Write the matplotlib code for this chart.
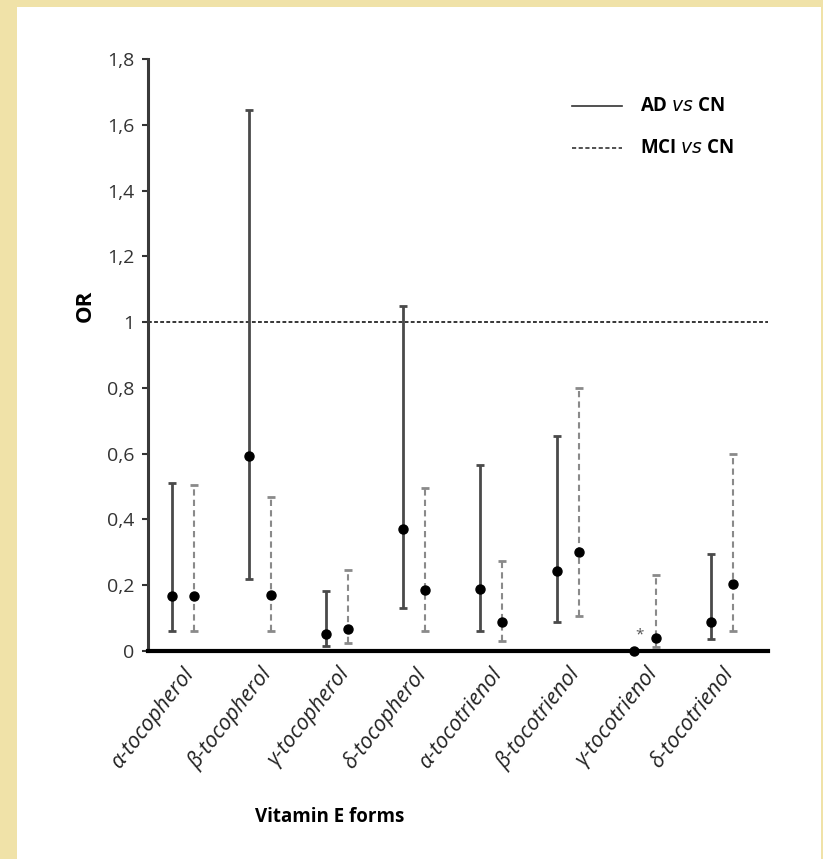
import matplotlib
matplotlib.use("Agg")
import matplotlib.pyplot as plt
from matplotlib.patches import Rectangle

plt.rcParams['font.family'] = ['Open Sans', 'DejaVu Sans']

forms = ['α-tocopherol', 'β-tocopherol', 'γ-tocopherol', 'δ-tocopherol',
         'α-tocotrienol', 'β-tocotrienol', 'γ-tocotrienol', 'δ-tocotrienol']

# AD vs CN: odds ratio with 95% CI
ad_or = [0.167, 0.593, 0.052, 0.371, 0.190, 0.243, 0.0, 0.088]
ad_lo = [0.060, 0.219, 0.015, 0.130, 0.060, 0.088, 0.0, 0.036]
ad_hi = [0.510, 1.644, 0.182, 1.050, 0.565, 0.653, 0.0, 0.294]

# MCI vs CN
mci_or = [0.167, 0.170, 0.067, 0.185, 0.088, 0.301, 0.040, 0.203]
mci_lo = [0.060, 0.060, 0.024, 0.060, 0.030, 0.106, 0.012, 0.060]
mci_hi = [0.505, 0.468, 0.246, 0.495, 0.274, 0.800, 0.230, 0.600]

yticks = [0, 0.2, 0.4, 0.6, 0.8, 1, 1.2, 1.4, 1.6, 1.8]
ytick_labels = ['0', '0,2', '0,4', '0,6', '0,8', '1', '1,2', '1,4', '1,6', '1,8']

fig = plt.figure(figsize=(8.23, 8.59), dpi=100)
fig.patch.set_facecolor('white')

# parchment-coloured border strips
tan = '#f0e2a8'
for rect in [(0, 0, 17 / 823, 1), (0, 1 - 7 / 859, 1, 7 / 859), (1 - 2 / 823, 0, 2 / 823, 1)]:
    fig.patches.append(Rectangle(rect[:2], rect[2], rect[3], transform=fig.transFigure,
                                 facecolor=tan, edgecolor='none', zorder=-10))

ax = fig.add_axes([148 / 823, 1 - 651 / 859, (768 - 148) / 823, (651 - 59) / 859])
ax.set_facecolor('none')

x = list(range(len(forms)))
off = 0.143
x_ad = [i - off for i in x]
x_mci = [i + off for i in x]

ad_err = [[v - l for v, l in zip(ad_or, ad_lo)], [h - v for v, h in zip(ad_or, ad_hi)]]
mci_err = [[v - l for v, l in zip(mci_or, mci_lo)], [h - v for v, h in zip(mci_or, mci_hi)]]

ax.errorbar(x_ad, ad_or, yerr=ad_err, fmt='o', color='black', ms=6.5,
            ecolor='#4a4a4a', elinewidth=2.0, capsize=3, capthick=2.0, zorder=3, clip_on=False)
eb = ax.errorbar(x_mci, mci_or, yerr=mci_err, fmt='o', color='black', ms=6.5,
                 ecolor='#8a8a8a', elinewidth=1.5, capsize=3, capthick=2.0, zorder=3)
eb[2][0].set_linestyle((0, (3, 2)))

ax.axhline(1, color='black', lw=1.1, ls=(0, (2.5, 1.5)), zorder=2)

ax.text(6 - off + 0.07, 0.05, '*', ha='center', va='center', fontsize=11, color='#555555')

ax.set_xlim(-0.45, 7.6)
ax.set_ylim(0, 1.8)
ax.set_yticks(yticks)
ax.set_yticklabels(ytick_labels, fontsize=14, color='#333333')
ax.set_xticks(x)
ax.set_xticklabels(forms, rotation=52, ha='right', rotation_mode='anchor',
                   fontsize=15.5, style='italic', color='#222222')
ax.tick_params(axis='x', length=0, pad=9)
ax.tick_params(axis='y', length=4, width=1.5, color='#333333', pad=6)

for s in ['top', 'right']:
    ax.spines[s].set_visible(False)
ax.spines['left'].set_linewidth(2.2)
ax.spines['left'].set_color('#3a3a3a')
ax.spines['bottom'].set_linewidth(3)
ax.spines['bottom'].set_color('black')

fig.text(85 / 823, 1 - 306 / 859, 'OR', rotation=90, ha='center', va='center',
         fontsize=16, fontweight='bold')
fig.text(330 / 823, 1 - 817 / 859, 'Vitamin E forms', ha='center', va='center',
         fontsize=13.5, fontweight='bold')

# legend drawn by hand
fig.add_artist(plt.Line2D([572 / 823, 622 / 823], [1 - 106 / 859] * 2, color='#333333', lw=1.2))
fig.add_artist(plt.Line2D([572 / 823, 622 / 823], [1 - 148 / 859] * 2, color='#333333', lw=1.2,
                          ls=(0, (2.5, 1.5))))
fig.text(640 / 823, 1 - 106 / 859, r'AD $\mathbf{\it{vs}}$ CN', va='center', fontsize=13.5, fontweight='bold')
fig.text(640 / 823, 1 - 148 / 859, r'MCI $\mathbf{\it{vs}}$ CN', va='center', fontsize=13.5, fontweight='bold')

fig.savefig('out.png', dpi=100)
